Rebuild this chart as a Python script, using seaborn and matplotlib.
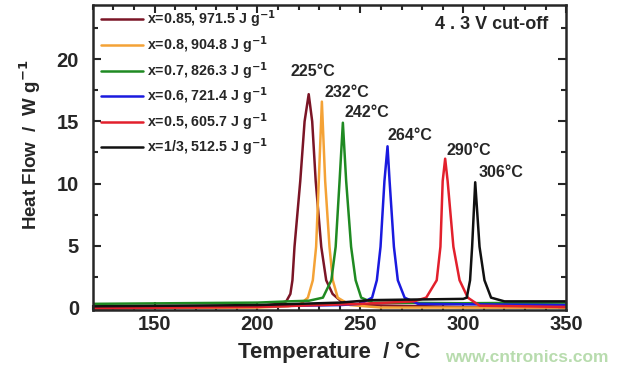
import matplotlib
matplotlib.use('Agg')
import matplotlib.pyplot as plt
import pandas as pd
import seaborn as sns
from matplotlib.ticker import MultipleLocator

# Data (temperature in degC, heat flow in W/g)
labels = ['x=0.85, 971.5 J g$^{\\mathbf{-1}}$', 'x=0.8, 904.8 J g$^{\\mathbf{-1}}$',
          'x=0.7, 826.3 J g$^{\\mathbf{-1}}$', 'x=0.6, 721.4 J g$^{\\mathbf{-1}}$',
          'x=0.5, 605.7 J g$^{\\mathbf{-1}}$', 'x=1/3, 512.5 J g$^{\\mathbf{-1}}$']
colors = ['#7b1526', '#f4a236', '#1f8a22', '#1a1adf', '#e2202c', '#111111']

t_085 = [120, 200, 210, 214, 216, 217, 218, 220.8, 222.9, 224.9, 226.6, 228.3, 231,
         233.4, 236.5, 240.7, 250, 300, 350]
hf_085 = [-0.1, 0.1, 0.3, 0.5, 1.1, 2.2, 4.9, 10.2, 15, 17.2, 15, 10.2, 4.9,
          2.2, 1.1, 0.5, 0.2, 0.05, 0.0]
t_08 = [120, 200, 215, 221, 224.5, 226.9, 228.5, 229.8, 231.3, 232.9, 235, 236.6,
        239, 245, 260, 350]
hf_08 = [-0.05, 0.0, 0.1, 0.3, 0.8, 2.2, 4.9, 10.2, 16.6, 10.2, 4.9, 2.2,
         0.8, 0.2, 0.0, 0.0]
t_07 = [120, 200, 215, 225, 231.8, 235.9, 238, 239.9, 241.5, 243.1, 245.5, 247.7,
        250.4, 256, 300, 350]
hf_07 = [0.3, 0.4, 0.5, 0.55, 0.8, 2.2, 4.9, 10.2, 14.9, 10.2, 4.9, 2.2,
         0.8, 0.4, 0.35, 0.4]
t_06 = [120, 200, 240, 250, 255.7, 258, 259.8, 261.7, 263.2, 264.2, 266.3, 268.2,
        271.5, 278, 350]
hf_06 = [0.05, 0.1, 0.2, 0.3, 0.8, 2.2, 4.9, 10.2, 13.0, 10.2, 4.9, 2.2,
         0.8, 0.3, 0.2]
t_05 = [120, 200, 250, 276, 282, 287.1, 288.9, 290, 291.2, 292.4, 295.2, 298.2,
        302.2, 308, 350]
hf_05 = [-0.05, 0.05, 0.3, 0.5, 0.8, 2.2, 4.9, 10.2, 12.0, 10.2, 4.9, 2.2,
         0.8, 0.15, 0.05]
t_033 = [120, 200, 240, 255, 300, 301.7, 303.3, 304.3, 305.8, 307.9, 310.3, 313.5,
         320, 350]
hf_033 = [0.1, 0.2, 0.4, 0.6, 0.7, 0.8, 2.2, 4.9, 10.1, 4.9, 2.2, 0.8,
          0.5, 0.5]

peak_labels = ['225°C', '232°C', '242°C', '264°C', '290°C', '306°C']
peak_tx = [216, 232.6, 242.3, 263.2, 291.8, 307.4]
peak_ty = [19.0, 17.3, 15.7, 13.9, 12.7, 10.9]

curves = [(t_085, hf_085), (t_08, hf_08), (t_07, hf_07),
          (t_06, hf_06), (t_05, hf_05), (t_033, hf_033)]
rows = []
for lab, (ts, hs) in zip(labels, curves):
    for t, h in zip(ts, hs):
        rows.append({'T': t, 'HF': h, 'sample': lab})
df = pd.DataFrame(rows)

sns.set_style('ticks')
plt.rcParams['font.family'] = ['Liberation Sans', 'DejaVu Sans']
plt.rcParams['font.weight'] = 'bold'
plt.rcParams['mathtext.default'] = 'bf'

fig = plt.figure(figsize=(6.27, 3.74), dpi=100)
ax = fig.add_axes([0.148, 0.171, 0.755, 0.816])

sns.lineplot(data=df, x='T', y='HF', hue='sample', palette=colors, sort=False,
             estimator=None, linewidth=1.8, ax=ax, legend=False)
for lab, c in zip(labels, colors):
    ax.plot([], [], color=c, lw=1.8, label=lab)

for lab, x, y in zip(peak_labels, peak_tx, peak_ty):
    ax.text(x, y, lab, fontsize=11.5, fontweight='bold', ha='left', va='center')

ax.text(0.962, 0.935, '4 . 3 V cut-off', transform=ax.transAxes, fontsize=13,
        fontweight='bold', ha='right', va='center')

ax.set_xlim(120, 350)
ax.set_ylim(-0.2, 24.4)
ax.xaxis.set_major_locator(MultipleLocator(50))
ax.xaxis.set_minor_locator(MultipleLocator(10))
ax.yaxis.set_major_locator(MultipleLocator(5))
ax.yaxis.set_minor_locator(MultipleLocator(2.5))
ax.tick_params(which='both', direction='in', top=True, right=True, width=1.5)
ax.tick_params(which='major', length=6, labelsize=14.5)
ax.tick_params(axis='y', which='major', pad=10)
ax.tick_params(which='minor', length=3.5)
for lbl in ax.get_xticklabels() + ax.get_yticklabels():
    lbl.set_fontweight('bold')
for s in ax.spines.values():
    s.set_linewidth(1.8)

ax.set_xlabel('Temperature  / °C', fontsize=16, fontweight='bold', labelpad=6)
ax.set_ylabel('Heat Flow  /  W g$^{-1}$', fontsize=13.5, fontweight='bold')
ax.yaxis.set_label_coords(-0.105, 0.54)

ax.legend(loc='upper left', bbox_to_anchor=(0.0, 1.015), frameon=False,
          handlelength=2.9, labelspacing=0.28, handletextpad=0.3, borderaxespad=0.2,
          prop={'weight': 'bold', 'size': 10.3})

fig.text(0.71, 0.045, 'www.cntronics.com', color='#b8dcae', fontsize=12.5, ha='left', va='center')

fig.savefig('out.png', dpi=100)
